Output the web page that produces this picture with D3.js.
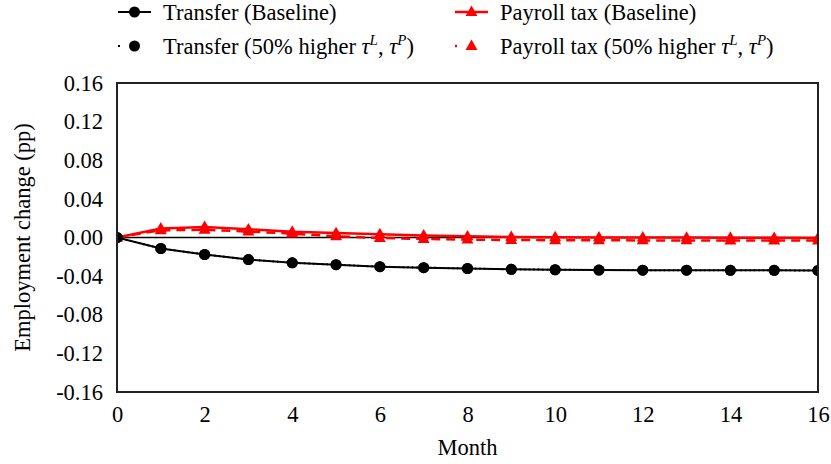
<!DOCTYPE html>
<html><head><meta charset="utf-8">
<script src="https://cdn.jsdelivr.net/npm/d3@7"></script>
<style>body{margin:0;background:#fff}svg{display:block}</style>
</head><body>
<svg id="c" width="831" height="464"></svg>
<script>
const months = d3.range(0, 17);
const transferBase = [0, -0.0114, -0.0176, -0.0228, -0.0262, -0.0282, -0.0302, -0.0312, -0.0321, -0.0330, -0.0334, -0.0337, -0.0338, -0.0339, -0.0340, -0.0340, -0.0341];
const transferHigh = [0, -0.0114, -0.0176, -0.0228, -0.0262, -0.0282, -0.0302, -0.0312, -0.0321, -0.0330, -0.0334, -0.0337, -0.0338, -0.0339, -0.0340, -0.0340, -0.0341];
const payrollBase = [0, 0.0093, 0.0110, 0.0085, 0.0060, 0.0046, 0.0034, 0.0022, 0.0012, 0.0006, 0.0003, 0.0001, 0.0000, -0.0001, -0.0002, -0.0003, -0.0004];
const payrollHigh = [0, 0.0075, 0.0080, 0.0062, 0.0040, 0.0012, -0.0005, -0.0015, -0.0022, -0.0026, -0.0028, -0.0029, -0.0030, -0.0030, -0.0031, -0.0031, -0.0032];
const yTicks = [0.16, 0.12, 0.08, 0.04, 0.00, -0.04, -0.08, -0.12, -0.16];
const xTicks = [0, 2, 4, 6, 8, 10, 12, 14, 16];

const FONT = '"Liberation Serif"';
const FS = 22.5;
const svg = d3.select("#c");
const L = 117, R = 818, T = 83, B = 392;
const x = d3.scaleLinear().domain([0, 16]).range([L, R]);
const y = d3.scaleLinear().domain([-0.16, 0.16]).range([B, T]);

// zero line
svg.append("line").attr("x1", L).attr("x2", R).attr("y1", y(0)).attr("y2", y(0))
  .attr("stroke", "#000").attr("stroke-width", 1.3);

const line = d3.line().x((d, i) => x(months[i])).y(d => y(d));
const series = [
  {v: payrollHigh, c: "#ff0000", dash: "9,6", w: 2.5, m: "tri"},
  {v: payrollBase, c: "#ff0000", dash: null, w: 2.5, m: "tri"},
  {v: transferHigh, c: "#000", dash: "1.5,3", w: 2, m: "circ"},
  {v: transferBase, c: "#000", dash: null, w: 2, m: "circ"}
];
const tri = d3.symbol().type(d3.symbolTriangle).size(62);
svg.append("defs").append("clipPath").attr("id", "clip").append("rect")
  .attr("x", L).attr("y", T).attr("width", R - L).attr("height", B - T);
const g = svg.append("g").attr("clip-path", "url(#clip)");
series.forEach(s => {
  g.append("path").attr("d", line(s.v)).attr("fill", "none").attr("stroke", s.c)
    .attr("stroke-width", s.w).attr("stroke-dasharray", s.dash);
  s.v.forEach((d, i) => {
    if (s.m === "circ") g.append("circle").attr("cx", x(months[i])).attr("cy", y(d)).attr("r", 5.5).attr("fill", s.c);
    else g.append("path").attr("d", tri).attr("transform", `translate(${x(months[i])},${y(d) + 0.5})`).attr("fill", s.c);
  });
});

// box
svg.append("rect").attr("x", L).attr("y", T).attr("width", R - L).attr("height", B - T)
  .attr("fill", "none").attr("stroke", "#222").attr("stroke-width", 2);

// axes labels
const yAxis = d3.axisLeft(y).tickValues(yTicks).tickSize(0).tickPadding(14)
  .tickFormat(d => (d < 0 ? "-" : "") + Math.abs(d).toFixed(2));
const ya = svg.append("g").attr("transform", `translate(${L},0)`).call(yAxis);
ya.select(".domain").remove();
ya.attr("font-family", "Liberation Serif").attr("font-size", FS);
ya.selectAll("text").style("font-size", FS + "px").style("font-family", FONT).attr("fill", "#000");
const xAxis = d3.axisBottom(x).tickValues(xTicks).tickSize(0).tickPadding(14);
const xa = svg.append("g").attr("transform", `translate(0,${B})`).call(xAxis);
xa.select(".domain").remove();
xa.attr("font-family", "Liberation Serif").attr("font-size", FS);
xa.selectAll("text").style("font-size", FS + "px").style("font-family", FONT).attr("fill", "#000");

svg.append("text").attr("x", (L + R) / 2).attr("y", 455).attr("text-anchor", "middle")
  .style("font-family", FONT).style("font-size", FS + "px").text("Month");
svg.append("text").attr("transform", `translate(30,${(T + B) / 2}) rotate(-90)`).attr("text-anchor", "middle")
  .style("font-family", FONT).style("font-size", FS + "px").text("Employment change (pp)");

// legend
const legend = [
  {lbl: "Transfer (Baseline)", c: "#000", dash: null, m: "circ", x: 118, y: 12, tau: false},
  {lbl: "Payroll tax (Baseline)", c: "#ff0000", dash: null, m: "tri", x: 455, y: 12, tau: false},
  {lbl: "Transfer (50% higher ", c: "#000", dash: "2,40", m: "circ", x: 118, y: 46, tau: true},
  {lbl: "Payroll tax (50% higher ", c: "#ff0000", dash: "2,40", m: "tri", x: 455, y: 46, tau: true}
];
legend.forEach(l => {
  svg.append("line").attr("x1", l.x).attr("x2", l.x + 33).attr("y1", l.y).attr("y2", l.y)
    .attr("stroke", l.c).attr("stroke-width", l.m === "tri" ? 2.5 : 2).attr("stroke-dasharray", l.dash);
  if (l.m === "circ") svg.append("circle").attr("cx", l.x + 16.5).attr("cy", l.y).attr("r", 5.5).attr("fill", l.c);
  else svg.append("path").attr("d", tri).attr("transform", `translate(${l.x + 16.5},${l.y + 0.5})`).attr("fill", l.c);
  const t = svg.append("text").attr("x", l.x + 45).attr("y", l.y + 7.5)
    .style("font-family", FONT).style("font-size", FS + "px");
  t.append("tspan").text(l.lbl);
  if (l.tau) {
    t.append("tspan").style("font-style", "italic").text("τ");
    t.append("tspan").attr("dy", -9).style("font-size", "15px").style("font-style", "italic").text("L");
    t.append("tspan").attr("dy", 9).text(", ");
    t.append("tspan").style("font-style", "italic").text("τ");
    t.append("tspan").attr("dy", -9).style("font-size", "15px").style("font-style", "italic").text("P");
    t.append("tspan").attr("dy", 9).text(")");
  }
});
</script>
</body></html>
